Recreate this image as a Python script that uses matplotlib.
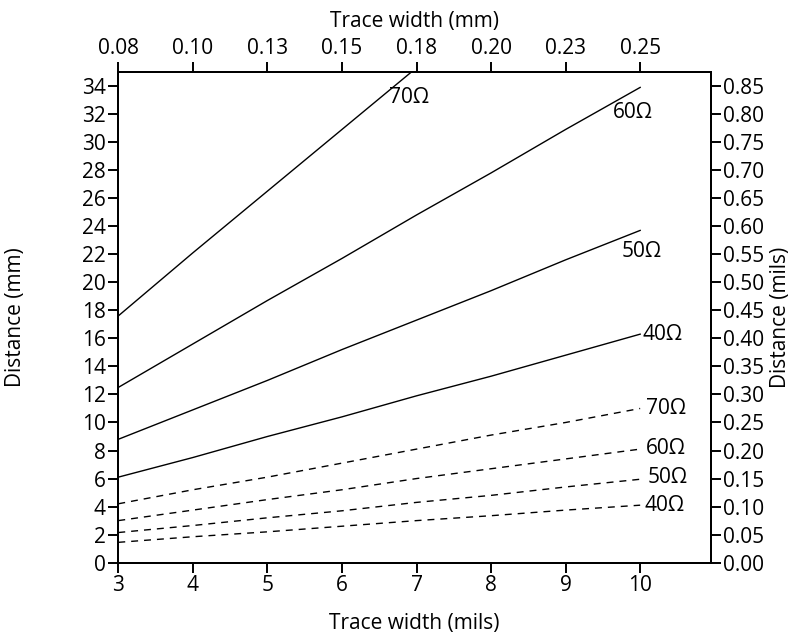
import numpy as np
import matplotlib
matplotlib.use("Agg")
import matplotlib.pyplot as plt

plt.rcParams['font.family'] = ['Open Sans', 'DejaVu Sans']

# trace width in mils
widths = [3, 4, 5, 6, 7, 8, 9, 10]
# tick labels for the top axis (mm)
width_mm_labels = ['0.08', '0.10', '0.13', '0.15', '0.18', '0.20', '0.23', '0.25']

# solid curves (distance in mm)
solid_70 = [17.6, 22.1, 26.5, 30.9, 35.3]  # leaves the plot near 7 mils
solid_60 = [12.5, 15.6, 18.7, 21.7, 24.8, 27.8, 30.9, 33.9]
solid_50 = [8.8, 10.9, 13.0, 15.2, 17.3, 19.4, 21.6, 23.7]
solid_40 = [6.1, 7.5, 9.0, 10.4, 11.9, 13.3, 14.8, 16.3]

# dashed curves
dashed_70 = [4.2, 5.2, 6.1, 7.1, 8.1, 9.1, 10.0, 11.0]
dashed_60 = [3.0, 3.75, 4.5, 5.2, 6.0, 6.7, 7.4, 8.1]
dashed_50 = [2.15, 2.65, 3.2, 3.7, 4.3, 4.8, 5.4, 5.95]
dashed_40 = [1.45, 1.85, 2.2, 2.6, 3.0, 3.35, 3.75, 4.1]

fig = plt.figure(figsize=(7.96, 6.36), dpi=100)
ax = fig.add_axes([0.1486, 0.1153, 0.7446, 0.7715])

ax.plot(widths[:len(solid_70)], solid_70, color='black', lw=1.0)
ax.plot(widths, solid_60, color='black', lw=1.0)
ax.plot(widths, solid_50, color='black', lw=1.0)
ax.plot(widths, solid_40, color='black', lw=1.0)
for d in [dashed_70, dashed_60, dashed_50, dashed_40]:
    ax.plot(widths, d, color='black', lw=1.0, dashes=(5, 4.3))

fs = 15
# curve labels
ax.text(6.63, 33.2, '70Ω', fontsize=fs, va='center', ha='left')
ax.text(9.63, 32.1, '60Ω', fontsize=fs, va='center', ha='left')
ax.text(9.75, 22.2, '50Ω', fontsize=fs, va='center', ha='left')
ax.text(10.03, 16.3, '40Ω', fontsize=fs, va='center', ha='left')
ax.text(10.08, 11.0, '70Ω', fontsize=fs, va='center', ha='left')
ax.text(10.08, 8.17, '60Ω', fontsize=fs, va='center', ha='left')
ax.text(10.10, 6.06, '50Ω', fontsize=fs, va='center', ha='left')
ax.text(10.06, 4.11, '40Ω', fontsize=fs, va='center', ha='left')

ax.set_xlim(3, 10.95)
ax.set_ylim(0, 35)
ax.set_xticks(widths)
ax.set_yticks(np.arange(0, 35, 2))
ax.set_xlabel('Trace width (mils)', fontsize=fs, labelpad=12)
ax.set_ylabel('Distance (mm)', fontsize=fs, labelpad=40)

# top axis: trace width in mm
top = ax.twiny()
top.set_xlim(ax.get_xlim())
top.set_xticks(widths)
top.set_xticklabels(width_mm_labels)
top.set_xlabel('Trace width (mm)', fontsize=fs, labelpad=8)

# right axis
right = ax.twinx()
right.set_ylim(0, 0.875)
right.set_yticks(np.arange(0, 0.86, 0.05))
right.set_yticklabels(['%.2f' % v for v in np.arange(0, 0.86, 0.05)])
right.set_ylabel('Distance (mils)', fontsize=fs, labelpad=4)

for a in [ax, top, right]:
    a.tick_params(direction='out', length=7, width=1.4, labelsize=fs, pad=2)
    for s in a.spines.values():
        s.set_linewidth(1.4)

fig.savefig('out.png', dpi=100)
